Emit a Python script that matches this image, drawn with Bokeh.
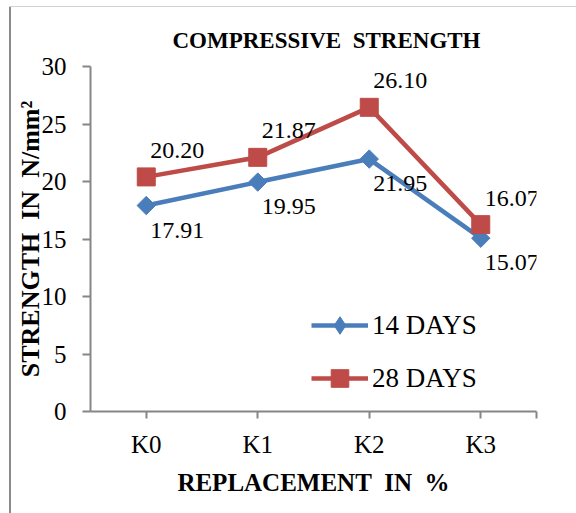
from bokeh.plotting import figure
from bokeh.models import (Range1d, FixedTicker, Legend, LegendItem, ColumnDataSource,
                          LabelSet, Title)
from bokeh.embed import file_html
from bokeh.resources import INLINE
import numpy as np

# ---- data ----
categories = ["K0", "K1", "K2", "K3"]
days14 = [17.91, 19.95, 21.95, 15.07]
days28 = [20.40, 22.10, 26.45, 16.25]
labels14 = ["17.91", "19.95", "21.95", "15.07"]
labels28 = ["20.20", "21.87", "26.10", "16.07"]
y_ticks = [0, 5, 10, 15, 20, 25, 30]

FONT = "Liberation Serif"
BLUE = "#4A7EBB"
RED = "#BE4B48"
AXIS = "#868686"
SP = "\u00a0"

xpos = list(range(len(categories)))

p = figure(width=576, height=513, output_backend="svg", toolbar_location=None,
           x_range=Range1d(-0.5, len(categories) - 0.5), y_range=Range1d(0, 30),
           min_border_left=90, min_border_right=40, min_border_top=66, min_border_bottom=102)
p.outline_line_color = None
p.xgrid.visible = False
p.ygrid.visible = False
p.background_fill_color = "white"
p.border_fill_alpha = 0
# chart-area box edges (left and top) drawn behind the transparent border area
p.styles = {
    "background": ("linear-gradient(#8a8a8a, #8a8a8a) 9px 7px / 2px 100% no-repeat, "
                   "linear-gradient(#d2d2d2, #d2d2d2) 9px 6px / 100% 1px no-repeat, white"),
}

# title
p.title.visible = False
p.add_layout(Title(text=SP, text_font_size="7px", standoff=0), "above")
p.add_layout(Title(text="COMPRESSIVE" + SP + SP + "STRENGTH", align="left", offset=82,
                   text_font=FONT, text_font_style="bold", text_font_size="23px",
                   text_color="black"), "above")

# axes
xa = p.xaxis[0]
xa.ticker = FixedTicker(ticks=xpos + [len(categories) - 0.5])
overrides = {i: c for i, c in enumerate(categories)}
overrides[len(categories) - 0.5] = ""
xa.major_label_overrides = overrides
xa.axis_label = "REPLACEMENT" + SP + SP + "IN" + SP + SP + "%"
ya = p.yaxis[0]
ya.ticker = FixedTicker(ticks=y_ticks)
ya.axis_label = "STRENGTH" + SP + SP + "IN" + SP + SP + "N/mm\u00b2"

for ax in (xa, ya):
    ax.axis_line_color = AXIS
    ax.axis_line_width = 2
    ax.major_tick_line_color = AXIS
    ax.major_tick_line_width = 2
    ax.major_tick_in = 0
    ax.minor_tick_line_color = None
    ax.major_label_text_font = FONT
    ax.major_label_text_font_size = "25px"
    ax.major_label_text_color = "black"
    ax.axis_label_text_font = FONT
    ax.axis_label_text_font_style = "bold"
    ax.axis_label_text_color = "black"
xa.axis_label_text_font_size = "25px"
ya.axis_label_text_font_size = "26px"
xa.major_tick_out = 7
xa.major_label_standoff = 12
xa.axis_label_standoff = 8
ya.major_tick_out = 8
ya.major_label_standoff = 16
ya.axis_label_standoff = -6

# series
src14 = ColumnDataSource(dict(x=xpos, y=days14, t=labels14))
src28 = ColumnDataSource(dict(x=xpos, y=days28, t=labels28))

l14 = p.line("x", "y", source=src14, line_color=BLUE, line_width=4.5)
k14 = p.scatter("x", "y", source=src14, marker="diamond", size=16,
                fill_color=BLUE, line_color=BLUE)
m14 = p.scatter("x", "y", source=src14, marker="square", angle=np.pi / 4, size=13,
                fill_color=BLUE, line_color=BLUE)
l28 = p.line("x", "y", source=src28, line_color=RED, line_width=4.5)
m28 = p.scatter("x", "y", source=src28, marker="square", size=18,
                fill_color=RED, line_color=RED)

p.add_layout(LabelSet(x="x", y="y", text="t", source=src14, x_offset=4, y_offset=-32,
                      text_font=FONT, text_font_size="24px", text_align="left",
                      text_baseline="alphabetic", text_color="black"))
p.add_layout(LabelSet(x="x", y="y", text="t", source=src28, x_offset=4, y_offset=19,
                      text_font=FONT, text_font_size="24px", text_align="left",
                      text_baseline="alphabetic", text_color="black"))

legend = Legend(items=[LegendItem(label="14 DAYS", renderers=[l14, k14]),
                       LegendItem(label="28 DAYS", renderers=[l28, m28])],
                location=(221, 11), orientation="vertical")
legend.background_fill_alpha = 0
legend.border_line_color = None
legend.label_text_font = FONT
legend.label_text_font_size = "27px"
legend.label_text_color = "black"
legend.glyph_width = 57
legend.glyph_height = 44
legend.label_height = 44
legend.spacing = 9
legend.padding = 0
legend.margin = 0
legend.label_standoff = 4
p.add_layout(legend, "center")

open("out.html", "w").write(file_html(p, INLINE))
